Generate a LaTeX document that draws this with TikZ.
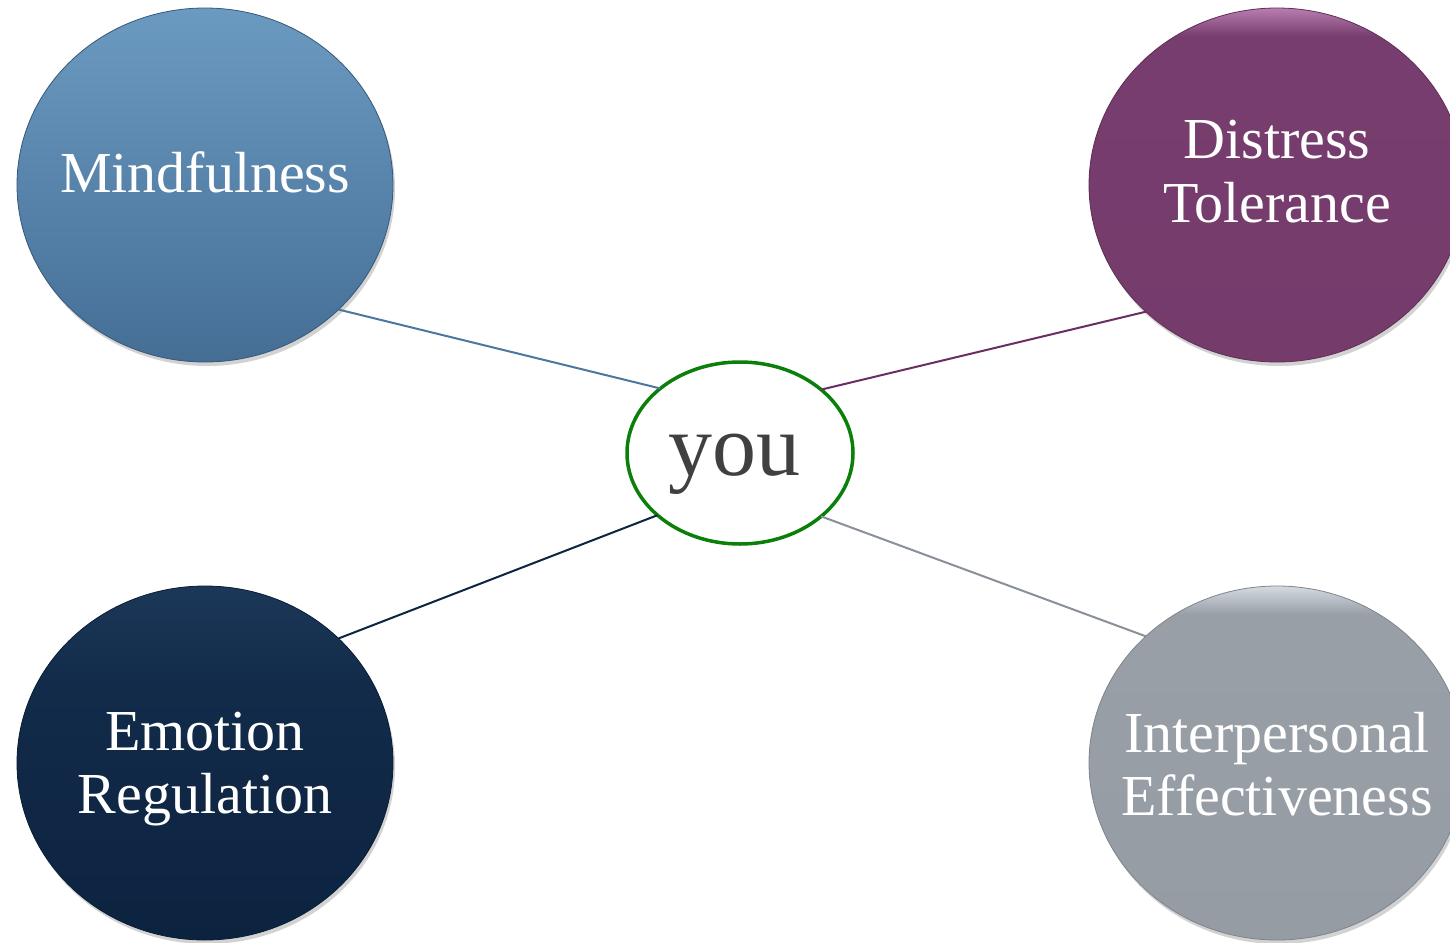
\documentclass[tikz,border=0pt]{standalone}
\usepackage{fontspec}
\setmainfont{Liberation Serif}
\usetikzlibrary{shapes.geometric,shadows}
\definecolor{mindT}{HTML}{6B9AC1}
\definecolor{mindB}{HTML}{456E95}
\definecolor{mindL}{HTML}{4C77A0}
\definecolor{distT}{HTML}{B97DB0}
\definecolor{distM}{HTML}{773D6E}
\definecolor{distB}{HTML}{743B6B}
\definecolor{distL}{HTML}{6A2E62}
\definecolor{emoT}{HTML}{1C3859}
\definecolor{emoB}{HTML}{0C2340}
\definecolor{emoL}{HTML}{0E2440}
\definecolor{intT}{HTML}{D4DAE0}
\definecolor{intM}{HTML}{989FA7}
\definecolor{intB}{HTML}{959CA4}
\definecolor{intL}{HTML}{8A9099}
\definecolor{youG}{HTML}{0A800A}
\definecolor{youT}{HTML}{404040}
\pgfdeclareverticalshading{distsh}{100bp}{color(0bp)=(distB); color(25bp)=(distB); color(67bp)=(distM); color(71bp)=(distM); color(75bp)=(distT); color(100bp)=(distT)}
\pgfdeclareverticalshading{intsh}{100bp}{color(0bp)=(intB); color(25bp)=(intB); color(67bp)=(intM); color(71bp)=(intM); color(75bp)=(intT); color(100bp)=(intT)}
\pgfdeclareverticalshading{emosh}{100bp}{color(0bp)=(emoB); color(25bp)=(emoB); color(62bp)=(emoB!60!emoT); color(75bp)=(emoT); color(100bp)=(emoT)}
\begin{document}
\begin{tikzpicture}[x=1pt,y=-1pt,
  bubble/.style={ellipse, minimum width=376pt, minimum height=354pt, inner sep=0pt, outer sep=0pt,
    drop shadow={shadow xshift=2pt,shadow yshift=-4pt,opacity=0.35}},
  lbl/.style={text=white, font=\fontsize{58}{64}\selectfont, anchor=base, inner sep=0pt},
  link/.style={line width=2pt}]
\useasboundingbox (0,0) rectangle (1450,942);
\fill[white] (0,0) rectangle (1450,942);
\begin{scope}
\clip (0,0) rectangle (1450,942);
\node[bubble, top color=mindT, bottom color=mindB, draw=mindB!80!black, line width=0.8pt] (mind) at (205,185) {};
\node[bubble, shading=distsh, draw=distB!80!black, line width=0.8pt] (dist) at (1277,185) {};
\node[bubble, shading=emosh, draw=emoB!80!black, line width=0.8pt] (emo) at (205,763) {};
\node[bubble, shading=intsh, draw=intB!85!black, line width=0.8pt] (inter) at (1277,763) {};

\node[lbl] (mindA) at (205,192) {Mindfulness};
\node[lbl] (distA) at (1277,158) {Distress};
\node[lbl] (distB) at (1277,222) {Tolerance};
\node[lbl] (emoA) at (205,750) {Emotion};
\node[lbl] (emoB) at (205,813) {Regulation};
\node[lbl] (interA) at (1277,752) {Interpersonal};
\node[lbl] (interB) at (1277,815) {Effectiveness};

\node[ellipse, minimum width=226pt, minimum height=182pt, inner sep=0pt, outer sep=0pt, draw=youG, line width=3.5pt, fill=white] (you) at (740,453) {};
\node[text=youT, font=\fontsize{88}{90}\selectfont, anchor=base, inner sep=0pt] (youtxt) at (734,475) {you};

\draw[link, mindL] (mind.-43.5) -- (you.141.3);
\draw[link, distL] (dist.-136.5) -- (you.38.7);
\draw[link, emoL] (emo.43.5) -- (you.217.8);
\draw[link, intL] (inter.136.5) -- (you.-38.8);
\end{scope}
\end{tikzpicture}
\end{document}
